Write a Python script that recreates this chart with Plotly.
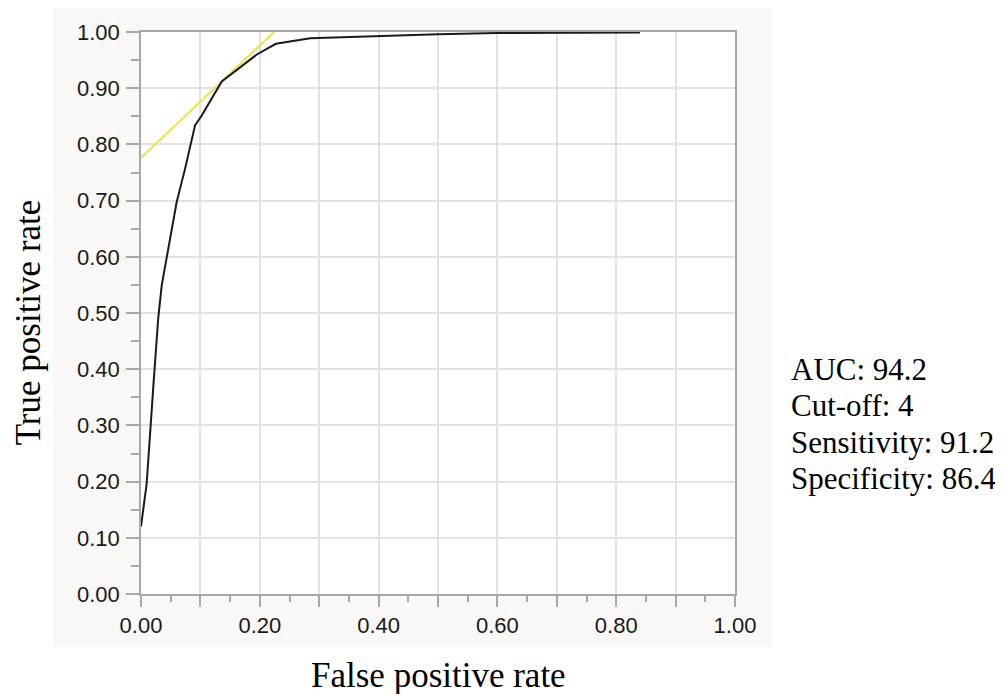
import plotly.graph_objects as go

# ROC curve values
fpr = [0.0, 0.0095, 0.021, 0.029, 0.035, 0.043, 0.060, 0.074, 0.091, 0.102,
       0.136, 0.195, 0.227, 0.285, 0.40, 0.50, 0.60, 0.84]
tpr = [0.12, 0.196, 0.373, 0.491, 0.55, 0.597, 0.697, 0.756, 0.834, 0.851,
       0.912, 0.96, 0.979, 0.989, 0.993, 0.996, 0.998, 0.999]

# tangent (cut-off) line
tangent_fpr = [0.0, 0.224]
tangent_tpr = [0.776, 1.0]

# tick labels
x_tickvals = [i / 10 for i in range(11)]
x_ticktext = ["0.00", "", "0.20", "", "0.40", "", "0.60", "", "0.80", "", "1.00"]
y_tickvals = [i / 10 for i in range(11)]
y_ticktext = ["%.2f" % v for v in y_tickvals]

# summary statistics
stat_labels = ["AUC", "Cut-off", "Sensitivity", "Specificity"]
stat_values = ["94.2", "4", "91.2", "86.4"]

AXIS_GRAY = "#a8a8a8"
GRID_GRAY = "#e2e2e2"

fig = go.Figure()
fig.add_trace(go.Scatter(x=tangent_fpr, y=tangent_tpr, mode="lines",
                         line=dict(color="#f0e040", width=1.9),
                         hoverinfo="skip", showlegend=False))
fig.add_trace(go.Scatter(x=fpr, y=tpr, mode="lines",
                         line=dict(color="#1a1a1a", width=2),
                         showlegend=False))

axis_common = dict(
    range=[0, 1], showline=True, mirror=True, linecolor=AXIS_GRAY, linewidth=1.5,
    showgrid=True, gridcolor=GRID_GRAY, gridwidth=1.5, zeroline=False,
    ticks="outside", tickcolor=AXIS_GRAY, tickwidth=1.5,
    tickfont=dict(family="Liberation Sans, Arial", size=22, color="#1a1a1a"),
    tickmode="array", fixedrange=True,
)

fig.update_xaxes(**axis_common, tickvals=x_tickvals, ticktext=x_ticktext, ticklen=11,
                 minor=dict(dtick=0.05, tick0=0, ticks="outside", ticklen=6,
                            tickcolor=AXIS_GRAY, tickwidth=1.5, showgrid=False))
fig.update_yaxes(**axis_common, tickvals=y_tickvals, ticktext=y_ticktext, ticklen=13,
                 ticklabelstandoff=2,
                 minor=dict(dtick=0.05, tick0=0, ticks="outside", ticklen=8,
                            tickcolor=AXIS_GRAY, tickwidth=1.5, showgrid=False))

shapes = [
    dict(type="rect", xref="paper", yref="paper", x0=-0.148, x1=1.062, y0=-0.0938, y1=1.06,
         fillcolor="#f9f8f6", line=dict(width=0), layer="below"),
    dict(type="rect", xref="paper", yref="paper", x0=0, x1=1, y0=0, y1=1,
         fillcolor="white", line=dict(width=0), layer="below"),
]

annotations = [
    dict(text="False positive rate", xref="paper", yref="paper", x=0.5, y=-0.145,
         xanchor="center", yanchor="middle", showarrow=False,
         font=dict(family="Liberation Serif, Times New Roman", size=35, color="black")),
    dict(text="True positive rate", xref="paper", yref="paper", x=-0.189, y=0.483,
         xanchor="center", yanchor="middle", showarrow=False, textangle=-90,
         font=dict(family="Liberation Serif, Times New Roman", size=35, color="black")),
]
stat_y = [0.400, 0.335, 0.270, 0.205]
for lab, val, yy in zip(stat_labels, stat_values, stat_y):
    annotations.append(dict(text=f"{lab}: {val}", xref="paper", yref="paper",
                            x=1.0905, y=yy, xanchor="left", yanchor="middle",
                            showarrow=False,
                            font=dict(family="Liberation Serif, Times New Roman",
                                      size=31, color="black")))

# page body has an 8px margin, so the figure is 8px smaller and shifted
fig.update_layout(
    width=995, height=686,
    margin=dict(l=133, r=268, t=21, b=100, pad=0),
    paper_bgcolor="white", plot_bgcolor="white",
    shapes=shapes, annotations=annotations, showlegend=False,
)

fig.write_html("out.html", config={"displayModeBar": False})
